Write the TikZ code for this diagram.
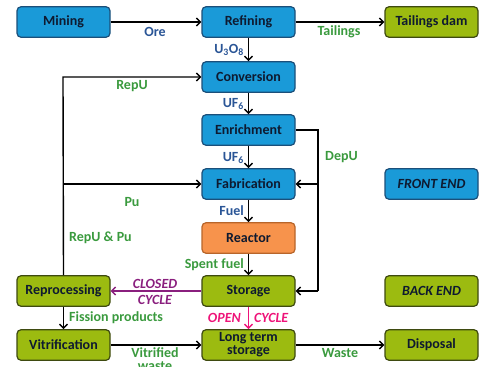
\documentclass[tikz,border=0pt]{standalone}
\usepackage{fontspec}
\setmainfont{Carlito}
\usetikzlibrary{arrows.meta}
\definecolor{bluefill}{HTML}{1A9AD8}
\definecolor{blueedge}{HTML}{1B4F7A}
\definecolor{greenfill}{HTML}{9CBB10}
\definecolor{greenedge}{HTML}{3E4A10}
\definecolor{orangefill}{HTML}{F7934C}
\definecolor{orangeedge}{HTML}{B8652A}
\definecolor{boxtext}{HTML}{0E1A30}
\definecolor{lblue}{HTML}{2A5596}
\definecolor{lgreen}{HTML}{3A9A3E}
\definecolor{lpurple}{HTML}{8A1F7E}
\definecolor{lmagenta}{HTML}{EE1379}
\tikzset{
  box/.style={rounded corners=4pt, line width=1.2pt, minimum width=93pt, minimum height=30.5pt,
    inner sep=1pt, align=center, text=boxtext, font=\fontsize{14}{14}\selectfont\bfseries},
  bluebox/.style={box, fill=bluefill, draw=blueedge},
  greenbox/.style={box, fill=greenfill, draw=greenedge},
  orangebox/.style={box, fill=orangefill, draw=orangeedge},
  lbl/.style={font=\fontsize{14}{14}\selectfont\bfseries, inner sep=0pt},
  bl/.style={lbl, text=lblue},
  gl/.style={lbl, text=lgreen},
  flow/.style={line width=1.4pt, -{Straight Barb[length=4pt,width=8pt,line width=1.4pt]}},
}
\begin{document}
\begin{tikzpicture}[x=1pt,y=-1pt]
\useasboundingbox (0,0) rectangle (480,367);
% boxes
\node[bluebox] (mining) at (63.5,22) {Mining};
\node[bluebox] (refining) at (248.5,22) {Refining};
\node[greenbox] (tailings) at (431.5,22) {Tailings dam};
\node[bluebox] (conversion) at (248.5,77) {Conversion};
\node[bluebox] (enrichment) at (248.5,130) {Enrichment};
\node[bluebox] (fabrication) at (248.5,184) {Fabrication};
\node[bluebox] (frontend) at (431.5,184) {\itshape FRONT END};
\node[orangebox] (reactor) at (248.5,238) {Reactor};
\node[greenbox] (storage) at (248.5,291) {Storage};
\node[greenbox] (backend) at (431.5,291) {\itshape BACK END};
\node[greenbox] (reprocessing) at (63.5,291) {Reprocessing};
\node[greenbox] (vitrification) at (63.5,345) {Vitrification};
\node[greenbox, font=\fontsize{14}{13}\selectfont\bfseries] (longterm) at (248.5,345) {Long term\\storage};
\node[greenbox] (disposal) at (431.5,345) {Disposal};
% coordinates
\coordinate (lx) at (63,77);
\coordinate (px) at (63,184);
\coordinate (dtop) at (318,130);
\coordinate (dfab) at (318,184);
\coordinate (dsto) at (318,291);
% connectors
\draw[flow] (mining) -- (refining);
\draw[flow] (refining) -- (tailings);
\draw[flow] (refining) -- (conversion);
\draw[flow] (conversion) -- (enrichment);
\draw[flow] (enrichment) -- (fabrication);
\draw[flow] (fabrication) -- (reactor);
\draw[flow] (reactor) -- (storage);
\draw[flow] (reprocessing.north) -- (lx) -- (conversion.west);
\draw[flow] (px) -- (fabrication.west);
\draw[line width=1.4pt] (enrichment.east) -- (dtop) -- (dsto);
\draw[flow] (dfab) -- (fabrication.east);
\draw[flow] (dsto) -- (storage.east);
\draw[flow, draw=lpurple] (storage) -- (reprocessing);
\draw[flow, draw=lmagenta] (storage) -- (longterm);
\draw[flow] (reprocessing) -- (vitrification);
\draw[flow] (vitrification) -- (longterm);
\draw[flow] (longterm) -- (disposal);
% labels
\node[bl] (l-ore) at (155,32) {Ore};
\node[gl] (l-tail) at (339,32) {Tailings};
\node[bl, anchor=east] (l-u3o8) at (244,50) {U\textsubscript{3}O\textsubscript{8}};
\node[bl, anchor=east] (l-uf6a) at (244,104) {UF\textsubscript{6}};
\node[bl, anchor=east] (l-uf6b) at (244,158) {UF\textsubscript{6}};
\node[bl, anchor=east] (l-fuel) at (244,211) {Fuel};
\node[gl, anchor=east] (l-spent) at (244,265) {Spent fuel};
\node[gl] (l-repu) at (132,86) {RepU};
\node[gl] (l-pu) at (132,202) {Pu};
\node[gl, anchor=west] (l-repupu) at (69,238) {RepU \& Pu};
\node[gl, anchor=west] (l-depu) at (325,157) {DepU};
\node[lbl, text=lpurple, font=\fontsize{14}{16}\selectfont\bfseries\itshape, align=center] (l-closed) at (155,292) {CLOSED\\CYCLE};
\node[lbl, text=lmagenta, font=\fontsize{14}{14}\selectfont\bfseries\itshape, anchor=east] (l-open) at (241,318) {OPEN};
\node[lbl, text=lmagenta, font=\fontsize{14}{14}\selectfont\bfseries\itshape, anchor=west] (l-cycle) at (254,318) {CYCLE};
\node[gl, anchor=west] (l-fission) at (69,318) {Fission products};
\node[gl, align=center, font=\fontsize{14}{13}\selectfont\bfseries] (l-vit) at (155,359) {Vitrified\\waste};
\node[gl] (l-waste) at (340,353) {Waste};
\end{tikzpicture}
\end{document}
